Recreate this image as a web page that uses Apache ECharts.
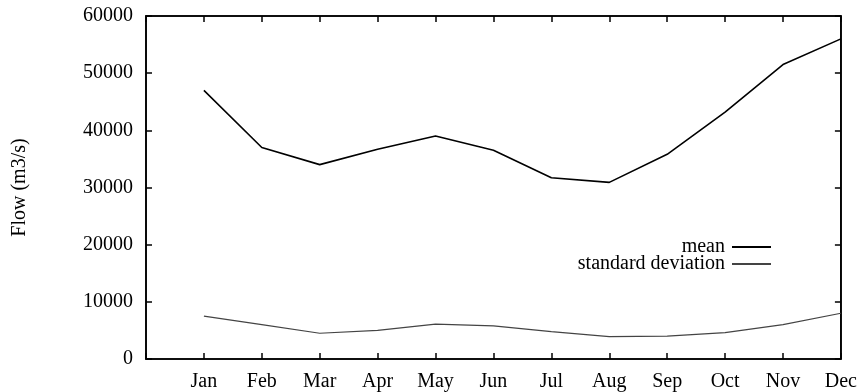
<!DOCTYPE html>
<html>
<head>
<meta charset="utf-8">
<script src="https://cdn.jsdelivr.net/npm/echarts@6/dist/echarts.min.js"></script>
<style>html,body{margin:0;padding:0;background:#fff;}#c{width:860px;height:392px;}</style>
</head>
<body>
<div id="c"></div>
<script>
const months = ['Jan','Feb','Mar','Apr','May','Jun','Jul','Aug','Sep','Oct','Nov','Dec'];
const meanValues = [47000, 37000, 34000, 36700, 39000, 36500, 31700, 30900, 35800, 43200, 51500, 56000];
const stdValues = [7500, 6000, 4500, 5000, 6100, 5800, 4800, 3900, 4000, 4600, 6000, 8000];
const yTicks = [0, 10000, 20000, 30000, 40000, 50000, 60000];

const FONT = "'Liberation Serif', 'Times New Roman', serif";
const chart = echarts.init(document.getElementById('c'));
function axisLine() { return {show: true, onZero: false, lineStyle: {color: '#000', width: 1.6}}; }
function tick() { return {show: true, inside: true, length: 6, lineStyle: {color: '#000', width: 1.5}}; }
chart.setOption({
  animation: false,
  backgroundColor: '#fff',
  grid: {left: 146, right: 19, top: 16, bottom: 32, show: true, borderColor: '#000', borderWidth: 1.6, backgroundColor: 'transparent'},
  legend: {
    orient: 'vertical', align: 'right', right: 84, top: 232,
    itemWidth: 39, itemHeight: 2, itemGap: -3, icon: 'rect',
    textStyle: {fontFamily: FONT, fontSize: 20, color: '#000', lineHeight: 16, padding: [0, 2, 0, 0]},
    data: ['mean', 'standard deviation']
  },
  xAxis: [{
    type: 'value', min: 0, max: 12, interval: 1, position: 'bottom',
    axisLine: axisLine(), axisTick: tick(), splitLine: {show: false},
    axisLabel: {fontFamily: FONT, fontSize: 20, color: '#000', margin: 13,
      formatter: v => (v >= 1 && v <= 12) ? months[v - 1] : ''}
  }, {
    type: 'value', position: 'top', min: 0, max: 12, interval: 1,
    axisLine: axisLine(), axisTick: tick(), splitLine: {show: false}, axisLabel: {show: false}
  }],
  yAxis: [{
    type: 'value', min: yTicks[0], max: yTicks[yTicks.length - 1], interval: 10000, position: 'left',
    name: 'Flow (m3/s)', nameLocation: 'middle', nameGap: 116,
    nameTextStyle: {fontFamily: FONT, fontSize: 20, color: '#000'},
    axisLine: axisLine(), axisTick: tick(), splitLine: {show: false},
    axisLabel: {fontFamily: FONT, fontSize: 20, color: '#000', margin: 13, formatter: v => String(v)}
  }, {
    type: 'value', position: 'right', min: yTicks[0], max: yTicks[yTicks.length - 1], interval: 10000,
    axisLine: axisLine(), axisTick: tick(), splitLine: {show: false}, axisLabel: {show: false}
  }],
  series: [{
    name: 'mean', type: 'line', symbol: 'none', showSymbol: false,
    xAxisIndex: 0, yAxisIndex: 0,
    lineStyle: {color: '#000', width: 1.6},
    itemStyle: {color: '#000'},
    data: meanValues.map((v, i) => [i + 1, v])
  }, {
    name: 'standard deviation', type: 'line', symbol: 'none', showSymbol: false,
    xAxisIndex: 1, yAxisIndex: 1,
    lineStyle: {color: '#444', width: 1.2},
    itemStyle: {color: '#444'},
    data: stdValues.map((v, i) => [i + 1, v])
  }]
});
</script>
</body>
</html>
